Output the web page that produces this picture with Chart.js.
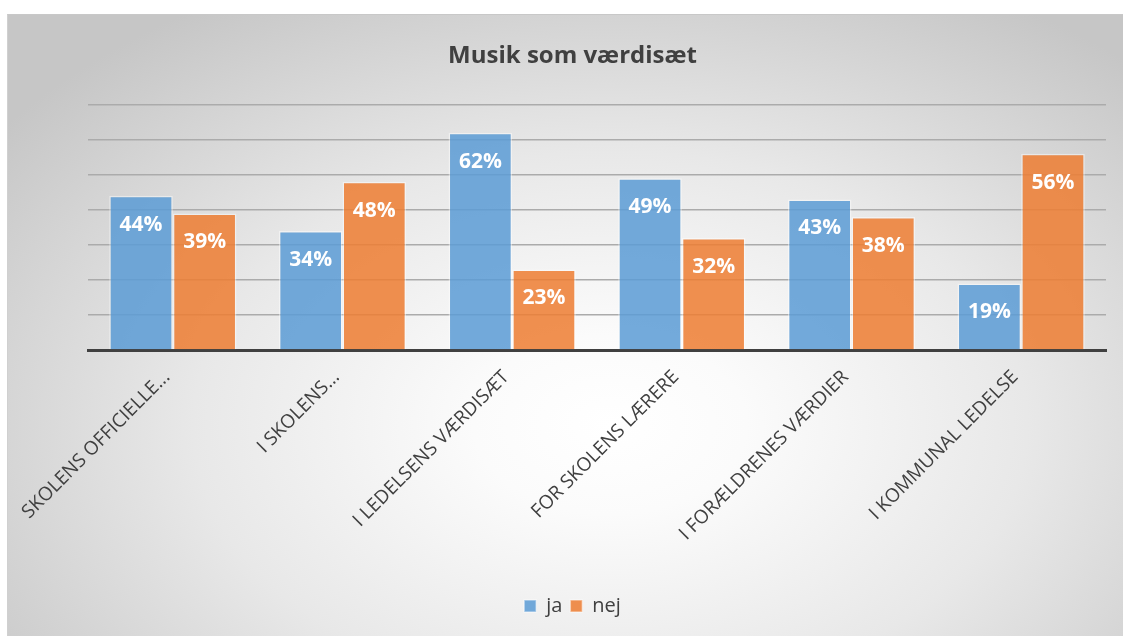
<!DOCTYPE html>
<html>
<head>
<meta charset="utf-8">
<script src="https://cdn.jsdelivr.net/npm/chart.js@4"></script>
<style>
    html, body { margin: 0; padding: 0; background: #fff; }
    #wrap {
        position: absolute;
        left: 7px;
        top: 14px;
        width: 1116px;
        height: 622px;
        border-top: 1px solid #c8c8c8;
        border-left: 1px solid #d0d0d0;
        box-sizing: border-box;
        background: radial-gradient(ellipse 68% 80% at 54% 66%, #ffffff 0%, #fbfbfb 18%, #e8e8e8 55%, #c6c6c6 100%);
    }
</style>
</head>
<body>
<div id="wrap"><canvas id="chart"></canvas></div>
<script>
const categories = ['SKOLENS OFFICIELLE...', 'I SKOLENS...', 'I LEDELSENS VÆRDISÆT', 'FOR SKOLENS LÆRERE', 'I FORÆLDRENES VÆRDIER', 'I KOMMUNAL LEDELSE'];
const jaValues = [44, 34, 62, 49, 43, 19];
const nejValues = [39, 48, 23, 32, 38, 56];
const seriesNames = ['ja', 'nej'];

const FONT = '"Open Sans", "DejaVu Sans", sans-serif';

// white percentage labels inside the top of each bar
const barLabels = {
    id: 'barLabels',
    afterDatasetsDraw(chart) {
        const ctx = chart.ctx;
        ctx.save();
        ctx.fillStyle = '#ffffff';
        ctx.font = 'bold 21px ' + FONT;
        ctx.textAlign = 'center';
        ctx.textBaseline = 'middle';
        chart.data.datasets.forEach((ds, i) => {
            const meta = chart.getDatasetMeta(i);
            meta.data.forEach((bar, j) => {
                ctx.fillText(ds.data[j] + '%', bar.x, bar.y + 29);
            });
        });
        ctx.restore();
    }
};

const ctx = document.getElementById('chart').getContext('2d');
new Chart(ctx, {
    type: 'bar',
    data: {
        labels: categories,
        datasets: [{
            label: seriesNames[0],
            data: jaValues,
            backgroundColor: 'rgba(91, 155, 213, 0.85)',
            borderColor: 'rgba(255, 255, 255, 0.45)',
            borderWidth: 1.5,
            categoryPercentage: 0.75,
            barPercentage: 1.0,
            yAxisID: 'y'
        }, {
            label: seriesNames[1],
            data: nejValues,
            backgroundColor: 'rgba(237, 125, 49, 0.85)',
            borderColor: 'rgba(255, 255, 255, 0.45)',
            borderWidth: 1.5,
            categoryPercentage: 0.75,
            barPercentage: 1.0,
            yAxisID: 'y'
        }]
    },
    options: {
        responsive: true,
        maintainAspectRatio: false,
        animation: false,
        layout: {
            padding: { left: 14, right: 0, top: 0, bottom: 10 }
        },
        plugins: {
            title: {
                display: true,
                text: 'Musik som værdisæt',
                color: '#404040',
                font: { family: FONT, size: 24, weight: 'bold' },
                padding: { top: 27, bottom: 34 }
            },
            legend: {
                position: 'bottom',
                labels: {
                    color: '#404040',
                    font: { family: FONT, size: 20 },
                    boxWidth: 12,
                    boxHeight: 12,
                    padding: 8
                }
            },
            tooltip: { enabled: false }
        },
        scales: {
            x: {
                grid: { display: false },
                border: { color: '#404040', width: 3 },
                ticks: {
                    color: '#404040',
                    font: { family: FONT, size: 19 },
                    maxRotation: 45,
                    minRotation: 45,
                    autoSkip: false,
                    padding: 8,
                    labelOffset: -6
                },
                afterFit(scale) { scale.height = 238; }
            },
            y: {
                position: 'left',
                min: 0,
                max: 70,
                ticks: { display: false, stepSize: 10 },
                border: { display: false },
                grid: { color: '#ababab', lineWidth: 1.5, drawTicks: false },
                afterFit(scale) { scale.width = 66; }
            },
            yRight: {
                position: 'right',
                min: 0,
                max: 70,
                ticks: { display: false },
                border: { display: false },
                grid: { display: false },
                afterFit(scale) { scale.width = 17; }
            }
        }
    },
    plugins: [barLabels]
});
</script>
</body>
</html>
